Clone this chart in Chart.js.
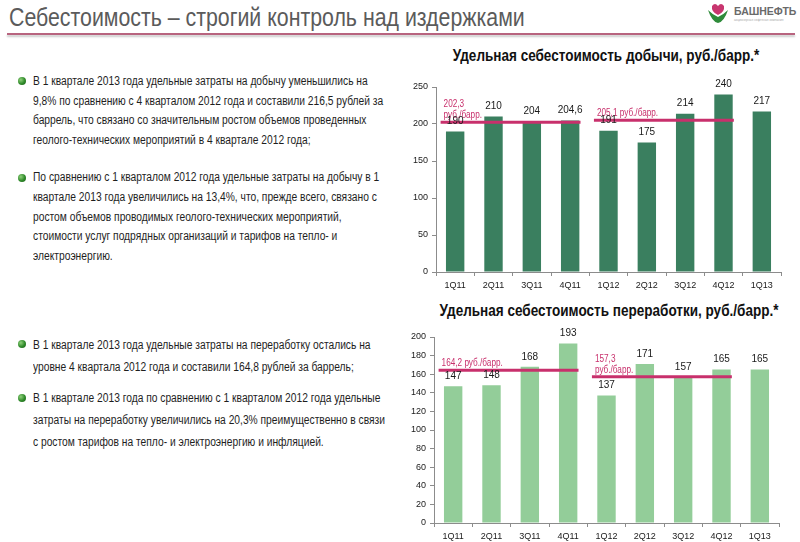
<!DOCTYPE html>
<html>
<head>
<meta charset="utf-8">
<script src="https://cdn.jsdelivr.net/npm/chart.js@4"></script>
<style>
  body { margin: 0; width: 800px; height: 542px; background: #fff; position: relative; overflow: hidden;
         font-family: "Liberation Sans", Arial, sans-serif; color: #1e1e1e; }
  .abs { position: absolute; }
  .narrow { transform: scaleX(0.82); transform-origin: 0 0; }
  #title { left: 9px; top: 2px; font-size: 26px; color: #5b5b5b; white-space: nowrap; }
  #rule { left: 7px; top: 33px; width: 788px; height: 2px; background: #b8647f; box-shadow: 0 2px 2px #c9c9c9; }
  .ctitle { font-size: 16.5px; font-weight: bold; color: #111; white-space: nowrap; text-align: center;
            width: 500px; transform: scaleX(0.82); transform-origin: 50% 0; }
  .para { left: 33px; font-size: 12.5px; white-space: nowrap; }
  .bullet { width: 8px; height: 8px; border-radius: 50%; left: 18px;
            background: radial-gradient(circle at 35% 35%, #8fd07a 0%, #2f8a2a 55%, #1c5c18 100%); }
  canvas { position: absolute; }
</style>
</head>
<body>
<div id="title" class="abs narrow">Себестоимость – строгий контроль над издержками</div>
<div id="rule" class="abs"></div>

<svg class="abs" style="left:706px; top:2px" width="92" height="24" viewBox="0 0 92 24">
  <path d="M2 8 Q6 20 12 21 Q18 20 22 8 Q17 13 12 15 Q7 13 2 8 Z" fill="#2e8b3a"/>
  <path d="M6 4 Q9 0 12 4 Q15 0 18 4 Q19 10 12 13 Q5 10 6 4 Z" fill="#c8366f"/>
  <text x="28" y="13" font-family="Liberation Sans, sans-serif" font-weight="bold" font-size="10.5" fill="#6a6a6a">БАШНЕФТЬ</text>
  <text x="28" y="19" font-family="Liberation Sans, sans-serif" font-size="3.2" fill="#aaaaaa">акционерная нефтяная компания</text>
</svg>

<div class="abs bullet" style="top:77px"></div>
<div class="abs para narrow" style="top:72px; line-height:19.7px">В 1 квартале 2013 года удельные затраты на добычу уменьшились на<br>9,8% по сравнению с 4 кварталом 2012 года и составили 216,5 рублей за<br>баррель, что связано со значительным ростом объемов проведенных<br>геолого-технических мероприятий в 4 квартале 2012 года;</div>
<div class="abs bullet" style="top:174px"></div>
<div class="abs para narrow" style="top:168px; line-height:19.8px">По сравнению с 1 кварталом 2012 года удельные затраты на добычу в 1<br>квартале 2013 года увеличились на 13,4%, что, прежде всего, связано с<br>ростом объемов проводимых геолого-технических мероприятий,<br>стоимости услуг подрядных организаций и тарифов на тепло- и<br>электроэнергию.</div>
<div class="abs bullet" style="top:340px"></div>
<div class="abs para narrow" style="top:334px; line-height:22px">В 1 квартале 2013 года удельные затраты на переработку остались на<br>уровне 4 квартала 2012 года и составили 164,8 рублей за баррель;</div>
<div class="abs bullet" style="top:394px"></div>
<div class="abs para narrow" style="top:387px; line-height:22px">В 1 квартале 2013 года по сравнению с 1 кварталом 2012 года удельные<br>затраты на переработку увеличились на 20,3% преимущественно в связи<br>с ростом тарифов на тепло- и электроэнергию и инфляцией.</div>

<div class="abs ctitle" style="left:356px; top:46px">Удельная себестоимость добычи, руб./барр.*</div>
<div class="abs ctitle" style="left:359px; top:301px">Удельная себестоимость переработки, руб./барр.*</div>

<canvas id="prodChart" style="left:400px; top:70px" width="385" height="222"></canvas>
<canvas id="refChart" style="left:400px; top:320px" width="383" height="223"></canvas>

<script>
const quarters = ['1Q11', '2Q11', '3Q11', '4Q11', '1Q12', '2Q12', '3Q12', '4Q12', '1Q13'];

// удельная себестоимость добычи
const productionCost = [190, 210, 204, 204.6, 191, 175, 214, 240, 217];
const productionAvg = [202.3, 205.1];
const productionAvgText = [['202,3', 'руб./барр.'], ['205,1 руб./барр.']];

// удельная себестоимость переработки
const refiningCost = [147, 148, 168, 193, 137, 171, 157, 165, 165];
const refiningAvg = [164.2, 157.3];
const refiningAvgText = [['164,2 руб./барр.'], ['157,3', 'руб./барр.']];

// averages cover 2011 (1Q11-4Q11) and 2012 (1Q12-4Q12)
const avgSpans = [[0, 3], [4, 7]];

const pink = '#c8306c';
const sans = '"Liberation Sans", Arial, sans-serif';

// average lines + captions + value labels, placed with the chart's scales
const overlay = {
    id: 'overlay',
    afterDatasetsDraw(chart, args, opts) {
        const ctx = chart.ctx;
        const xs = chart.scales.x, ys = chart.scales.y;
        const step = xs.getPixelForValue(1) - xs.getPixelForValue(0);
        ctx.save();

        opts.avg.forEach((a, k) => {
            const x0 = xs.getPixelForValue(avgSpans[k][0]) - 0.38 * step;
            const x1 = xs.getPixelForValue(avgSpans[k][1]) + 0.27 * step;
            const y = ys.getPixelForValue(a);
            ctx.strokeStyle = pink;
            ctx.lineWidth = 3;
            ctx.beginPath();
            ctx.moveTo(x0, y);
            ctx.lineTo(x1, y);
            ctx.stroke();

            ctx.font = '10px ' + sans;
            ctx.fillStyle = pink;
            ctx.textAlign = 'left';
            ctx.textBaseline = 'alphabetic';
            const lines = opts.text[k];
            lines.forEach((t, j) => {
                ctx.save();
                ctx.translate(x0 + 3, y - 4 - (lines.length - 1 - j) * 11);
                ctx.scale(0.82, 1);
                ctx.fillText(t, 0, 0);
                ctx.restore();
            });
        });

        const meta = chart.getDatasetMeta(0);
        ctx.font = '10px ' + sans;
        ctx.fillStyle = '#1a1a1a';
        ctx.textAlign = 'center';
        ctx.textBaseline = 'bottom';
        meta.data.forEach((bar, i) => {
            const v = chart.data.datasets[0].data[i];
            ctx.fillText(String(v).replace('.', ','), bar.x, bar.y - 5);
        });
        ctx.restore();
    }
};

function fixWidth(w) {
    return function(scale) { scale.width = w; };
}
function fixHeight(h) {
    return function(scale) { scale.height = h; };
}

function makeChart(id, values, avgs, avgText, barColor, yMax, step, axisWidth) {
    return new Chart(document.getElementById(id), {
        type: 'bar',
        data: {
            labels: quarters,
            datasets: [{
                data: values,
                backgroundColor: barColor,
                barPercentage: 0.48,
                categoryPercentage: 1
            }]
        },
        options: {
            responsive: false,
            animation: false,
            layout: { padding: { top: 17, right: 4, left: 0, bottom: 0 } },
            plugins: {
                legend: { display: false },
                tooltip: { enabled: false },
                overlay: { avg: avgs, text: avgText }
            },
            scales: {
                x: {
                    border: { color: '#8c8c8c' },
                    grid: { drawOnChartArea: false, offset: true, tickLength: 4, color: '#8c8c8c' },
                    ticks: { color: '#1a1a1a', font: { family: sans, size: 9 }, padding: 4 },
                    afterFit: fixHeight(20)
                },
                y: {
                    min: 0,
                    max: yMax,
                    border: { color: '#8c8c8c' },
                    grid: { drawOnChartArea: false, tickLength: 4, color: '#8c8c8c' },
                    ticks: { stepSize: step, color: '#1a1a1a', font: { family: sans, size: 9 }, padding: 4 },
                    afterFit: fixWidth(axisWidth)
                }
            }
        },
        plugins: [overlay]
    });
}

makeChart('prodChart', productionCost, productionAvg, productionAvgText, '#3a7f5f', 250, 50, 36);
makeChart('refChart', refiningCost, refiningAvg, refiningAvgText, '#93cd99', 200, 20, 34);
</script>
</body>
</html>
